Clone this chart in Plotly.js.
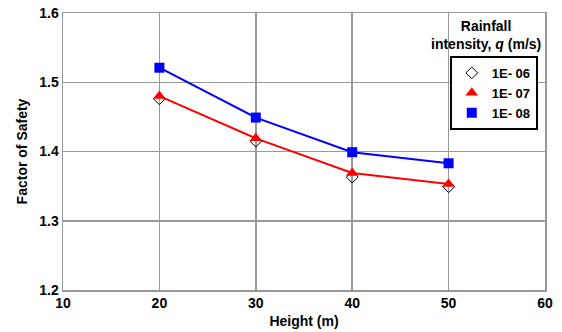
<!DOCTYPE html>
<html>
<head>
<meta charset="utf-8">
<script src="https://cdn.plot.ly/plotly-3.0.1.min.js"></script>
<style>html,body{margin:0;padding:0;background:#fff;}#chart{width:562px;height:332px;}</style>
</head>
<body>
<div id="chart"></div>
<script>
const heights = [20, 30, 40, 50];
const seriesNames = ["1E- 06", "1E- 07", "1E- 08"];
const fs_1e06 = [1.476, 1.415, 1.363, 1.349];
const fs_1e07 = [1.480, 1.419, 1.369, 1.353];
const fs_1e08 = [1.521, 1.449, 1.399, 1.383];
const xTicks = [10, 20, 30, 40, 50, 60];
const yTicks = [1.2, 1.3, 1.4, 1.5, 1.6];

const font = "Liberation Sans, Arial, sans-serif";
const traces = [
  {x: heights, y: fs_1e08, mode: "lines", line: {color: "#0000ff", width: 2}, showlegend: false, hoverinfo: "skip"},
  {x: heights, y: fs_1e07, mode: "lines", line: {color: "#ff0000", width: 2}, showlegend: false, hoverinfo: "skip"},
  {x: heights, y: fs_1e06, mode: "markers", name: seriesNames[0],
   marker: {symbol: "diamond-open", size: 9, color: "#000", line: {width: 1, color: "#000"}}},
  {x: heights, y: fs_1e07, mode: "markers", name: seriesNames[1],
   marker: {symbol: "triangle-up", size: 11, color: "#ff0000"}},
  {x: heights, y: fs_1e08, mode: "markers", name: seriesNames[2],
   marker: {symbol: "square", size: 10, color: "#0000ff"}}
];

const layout = {
  width: 562, height: 332,
  margin: {l: 63, r: 17, t: 13, b: 42, autoexpand: false},
  paper_bgcolor: "#fff", plot_bgcolor: "#fff",
  font: {family: font, color: "#000", size: 14},
  xaxis: {
    range: [10, 60], tickvals: xTicks, ticktext: xTicks.map(String),
    showgrid: true, gridcolor: "#999", gridwidth: 1.5,
    showline: true, mirror: true, linecolor: "#999", linewidth: 1.5,
    ticks: "", zeroline: false,
    tickfont: {family: font, size: 14, weight: "bold"},
    title: {text: "Height (m)", font: {family: font, size: 14, weight: "bold"}, standoff: 6}
  },
  yaxis: {
    range: [1.2, 1.6], tickvals: yTicks, ticktext: yTicks.map(v => v.toFixed(1)),
    showgrid: true, gridcolor: "#999", gridwidth: 1.5,
    showline: true, mirror: true, linecolor: "#999", linewidth: 1.5,
    ticks: "", zeroline: false,
    tickfont: {family: font, size: 14, weight: "bold"},
    title: {text: "Factor of Safety", font: {family: font, size: 14, weight: "bold"}, standoff: 8}
  },
  showlegend: true,
  legend: {
    x: 0.985, y: 0.845, xanchor: "right", yanchor: "top",
    bgcolor: "#fff", bordercolor: "#000", borderwidth: 2,
    font: {family: font, size: 13, weight: "bold"},
    itemwidth: 30, tracegroupgap: 0
  },
  annotations: [
    {xref: "paper", yref: "paper", x: 0.995, y: 0.99, xanchor: "right", yanchor: "top",
     showarrow: false, align: "center",
     text: "Rainfall<br>intensity, <i>q</i> (m/s)",
     font: {family: font, size: 14, weight: "bold"}}
  ]
};

Plotly.newPlot("chart", traces, layout, {displayModeBar: false, staticPlot: true});
</script>
</body>
</html>
